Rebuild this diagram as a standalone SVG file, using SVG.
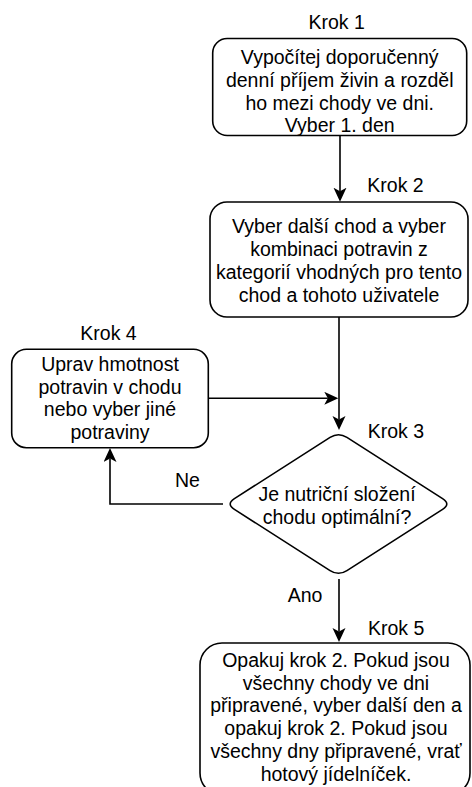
<svg xmlns="http://www.w3.org/2000/svg" width="472" height="787" viewBox="0 0 472 787">
<style>
text{font-family:"Liberation Sans",Arial,sans-serif;font-size:19.5px;fill:#000}
.c{text-anchor:middle}
.box{fill:#fff;stroke:#000;stroke-width:1.6}
.ln{fill:none;stroke:#000;stroke-width:1.6}
</style>
<defs>
<marker id="arr" markerUnits="userSpaceOnUse" markerWidth="16" markerHeight="14" viewBox="0 0 16 14" refX="3.5" refY="6.5" orient="auto">
<path d="M0,0 L14,6.5 L0,13 L3.5,6.5 Z" fill="#000"/>
</marker>
</defs>
<rect width="472" height="787" fill="#fff"/>
<g id="connectors">
<line class="ln" x1="340" y1="135.5" x2="340" y2="191.2" marker-end="url(#arr)"/>
<line class="ln" x1="339" y1="317" x2="339" y2="419.5" marker-end="url(#arr)"/>
<line class="ln" x1="208.3" y1="398.3" x2="327.8" y2="398.3" marker-end="url(#arr)"/>
<polyline class="ln" points="223,504 110,504 110,458.5" marker-end="url(#arr)"/>
<line class="ln" x1="339" y1="579" x2="339" y2="631.5" marker-end="url(#arr)"/>
<text class="c" x="187.5" y="487">Ne</text>
<text class="c" x="305" y="602">Ano</text>
</g>
<g id="krok1">
<text class="c" x="336.7" y="29.3">Krok 1</text>
<rect class="box" x="212.7" y="38.5" width="254" height="97" rx="14.5"/>
<text class="c" x="339.7" y="64">Vypočítej doporučenný</text>
<text class="c" x="339.7" y="86.8">denní příjem živin a rozděl</text>
<text class="c" x="339.7" y="109.6">ho mezi chody ve dni.</text>
<text class="c" x="339.7" y="132.2">Vyber 1. den</text>
</g>
<g id="krok2">
<text x="367.3" y="191.7">Krok 2</text>
<rect class="box" x="210" y="202" width="258" height="115" rx="17"/>
<text class="c" x="339" y="233.3">Vyber další chod a vyber</text>
<text class="c" x="339" y="256.1">kombinaci potravin z</text>
<text class="c" x="339" y="278.9">kategorií vhodných pro tento</text>
<text class="c" x="339" y="301.7">chod a tohoto uživatele</text>
</g>
<g id="krok4">
<text class="c" x="108.5" y="340">Krok 4</text>
<rect class="box" x="11.7" y="349.3" width="196.6" height="98.4" rx="14.7"/>
<text class="c" x="110" y="370.7">Uprav hmotnost</text>
<text class="c" x="110" y="393.5">potravin v chodu</text>
<text class="c" x="110" y="416.3">nebo vyber jiné</text>
<text class="c" x="110" y="439.1">potraviny</text>
</g>
<g id="krok3">
<text x="367.7" y="438">Krok 3</text>
<path class="box" d="M234.42,498.61 L330.08,437.39 Q338.5,432 346.92,437.39 L442.58,498.61 Q451,504 442.58,509.39 L346.92,570.61 Q338.5,576 330.08,570.61 L234.42,509.39 Q226,504 234.42,498.61 Z"/>
<text class="c" x="337" y="501">Je nutriční složení</text>
<text class="c" x="337" y="523.5">chodu optimální?</text>
</g>
<g id="krok5">
<text x="368" y="635">Krok 5</text>
<rect class="box" x="200" y="643" width="270" height="152" rx="22"/>
<text class="c" x="336" y="666.7">Opakuj krok 2. Pokud jsou</text>
<text class="c" x="336" y="689.5">všechny chody ve dni</text>
<text class="c" x="336" y="712.3">připravené, vyber další den a</text>
<text class="c" x="336" y="735.1">opakuj krok 2. Pokud jsou</text>
<text class="c" x="336" y="757.9">všechny dny připravené, vrať</text>
<text class="c" x="336" y="780.5">hotový jídelníček.</text>
</g>
</svg>
